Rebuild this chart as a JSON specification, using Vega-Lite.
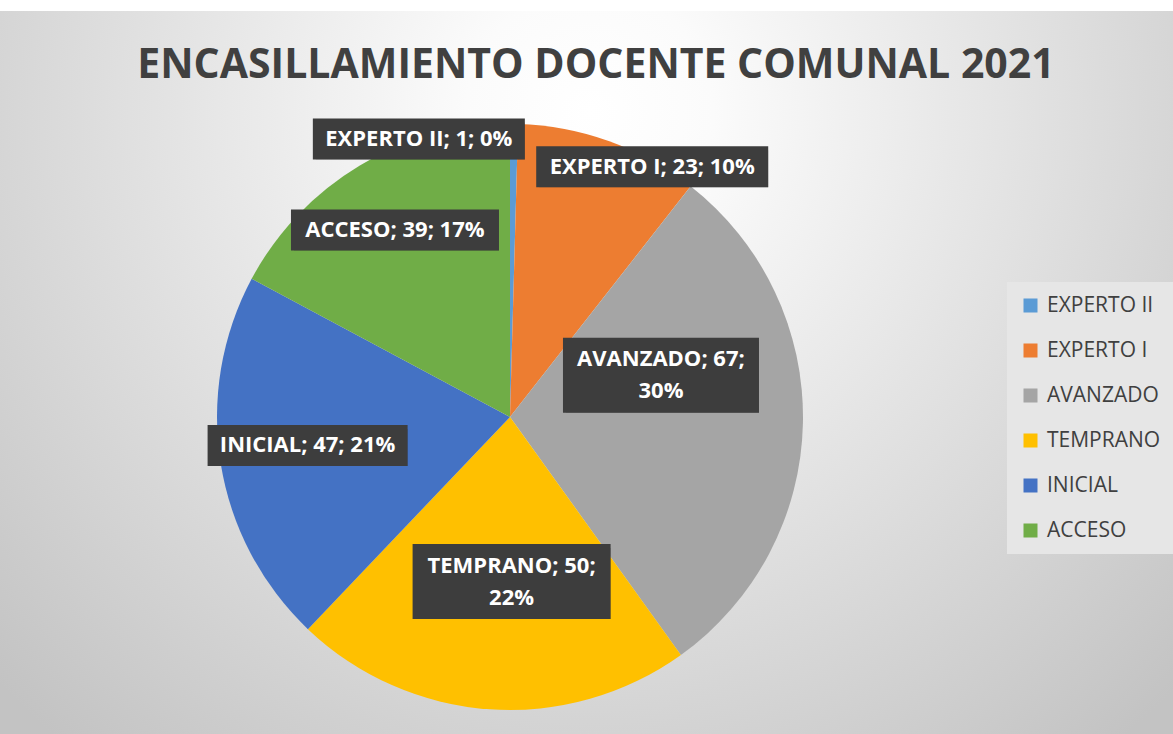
{
  "$schema": "https://vega.github.io/schema/vega-lite/v6.json",
  "width": 1326,
  "height": 812,
  "autosize": "none",
  "padding": {"left": -153, "top": 11, "right": 0, "bottom": -89},
  "background": "#ffffff",
  "view": {
    "stroke": null,
    "fill": {
      "gradient": "radial",
      "x1": 0.56, "y1": 0.27, "r1": 0,
      "x2": 0.56, "y2": 0.27, "r2": 0.62,
      "stops": [
        {"offset": 0, "color": "#ffffff"},
        {"offset": 0.15, "color": "#fbfbfb"},
        {"offset": 1, "color": "#c3c3c3"}
      ]
    }
  },
  "title": {
    "text": "ENCASILLAMIENTO DOCENTE COMUNAL 2021",
    "font": "Open Sans",
    "fontSize": 41,
    "fontWeight": "bold",
    "color": "#404040",
    "anchor": "middle",
    "frame": "group",
    "dx": 86,
    "offset": -108,
    "baseline": "alphabetic"
  },
  "data": {
    "values": [
      {"cat": "EXPERTO II", "value": 1, "orden": 1},
      {"cat": "EXPERTO I", "value": 23, "orden": 2},
      {"cat": "AVANZADO", "value": 67, "orden": 3},
      {"cat": "TEMPRANO", "value": 50, "orden": 4},
      {"cat": "INICIAL", "value": 47, "orden": 5},
      {"cat": "ACCESO", "value": 39, "orden": 6}
    ]
  },
  "layer": [
    {
      "mark": {"type": "arc", "radius": 293},
      "encoding": {
        "theta": {"field": "value", "type": "quantitative", "stack": true},
        "order": {"field": "orden", "type": "quantitative"},
        "color": {
          "field": "cat",
          "type": "nominal",
          "scale": {
            "domain": ["EXPERTO II", "EXPERTO I", "AVANZADO", "TEMPRANO", "INICIAL", "ACCESO"],
            "range": ["#5B9BD5", "#ED7D31", "#A5A5A5", "#FFC000", "#4472C4", "#70AD47"]
          },
          "legend": {
            "title": null,
            "orient": "none",
            "legendX": 1160,
            "legendY": 271,
            "symbolType": "square",
            "symbolSize": 196,
            "symbolStrokeWidth": 0,
            "labelFont": "Open Sans",
            "labelFontSize": 21,
            "labelColor": "#404040",
            "labelOffset": 6,
            "rowPadding": 23,
            "padding": 13,
            "fillColor": "#e6e6e6"
          }
        }
      }
    },
    {
      "transform": [
        {"stack": "value", "groupby": [], "sort": [{"field": "orden", "order": "ascending"}], "as": ["v0", "v1"]},
        {"joinaggregate": [{"op": "sum", "field": "value", "as": "total"}]},
        {"calculate": "PI * (datum.v0 + datum.v1) / datum.total", "as": "mid"},
        {"calculate": "format(datum.value / datum.total, '.0%')", "as": "pct"},
        {"calculate": "(datum.cat == 'AVANZADO' || datum.cat == 'TEMPRANO') ? datum.cat + '; ' + datum.value + ';\\n' + datum.pct : datum.cat + '; ' + datum.value + '; ' + datum.pct", "as": "lab"},
        {"calculate": "(datum.cat == 'AVANZADO' || datum.cat == 'TEMPRANO') ? 2 : 1", "as": "lines"},
        {"calculate": "datum.cat == 'EXPERTO II' ? 278 : datum.cat == 'EXPERTO I' ? 266 : datum.cat == 'AVANZADO' ? 151 : datum.cat == 'TEMPRANO' ? 165 : datum.cat == 'INICIAL' ? 205 : 218", "as": "lr"},
        {"calculate": "datum.cat == 'EXPERTO II' ? -95 : datum.cat == 'EXPERTO I' ? 52 : datum.cat == 'TEMPRANO' ? 13 : datum.cat == 'ACCESO' ? -3 : 0", "as": "ldx"},
        {"calculate": "datum.cat == 'AVANZADO' ? -45 : datum.cat == 'INICIAL' ? -4 : 0", "as": "ldy"},
        {"calculate": "datum.cat == 'EXPERTO II' ? 212 : datum.cat == 'EXPERTO I' ? 232 : datum.cat == 'AVANZADO' ? 196 : datum.cat == 'TEMPRANO' ? 198 : datum.cat == 'INICIAL' ? 200 : 208", "as": "bw"},
        {"calculate": "datum.lines == 2 ? 75 : 41", "as": "bh"},
        {"calculate": "width / 2 + datum.lr * sin(datum.mid) + datum.ldx", "as": "cx"},
        {"calculate": "height / 2 - datum.lr * cos(datum.mid) + datum.ldy", "as": "cy"},
        {"calculate": "datum.cy - (datum.lines - 1) * 16", "as": "ty"},
        {"calculate": "datum.cx - datum.bw / 2", "as": "bx1"},
        {"calculate": "datum.cx + datum.bw / 2", "as": "bx2"},
        {"calculate": "datum.cy - datum.bh / 2", "as": "by1"},
        {"calculate": "datum.cy + datum.bh / 2", "as": "by2"}
      ],
      "layer": [
        {
          "mark": {"type": "rect", "fill": "#000000", "opacity": 0.25, "xOffset": 3, "yOffset": 4},
          "encoding": {
            "x": {"field": "bx1", "type": "quantitative", "scale": null},
            "x2": {"field": "bx2"},
            "y": {"field": "by1", "type": "quantitative", "scale": null},
            "y2": {"field": "by2"}
          }
        },
        {
          "mark": {"type": "rect", "fill": "#3d3d3d"},
          "encoding": {
            "x": {"field": "bx1", "type": "quantitative", "scale": null},
            "x2": {"field": "bx2"},
            "y": {"field": "by1", "type": "quantitative", "scale": null},
            "y2": {"field": "by2"}
          }
        },
        {
          "mark": {
            "type": "text",
            "font": "Open Sans",
            "fontSize": 22,
            "fontWeight": "bold",
            "lineBreak": "\n",
            "lineHeight": 32,
            "baseline": "middle",
            "align": "center",
            "fill": "#ffffff"
          },
          "encoding": {
            "x": {"field": "cx", "type": "quantitative", "scale": null},
            "y": {"field": "ty", "type": "quantitative", "scale": null},
            "text": {"field": "lab", "type": "nominal"}
          }
        }
      ]
    }
  ]
}
